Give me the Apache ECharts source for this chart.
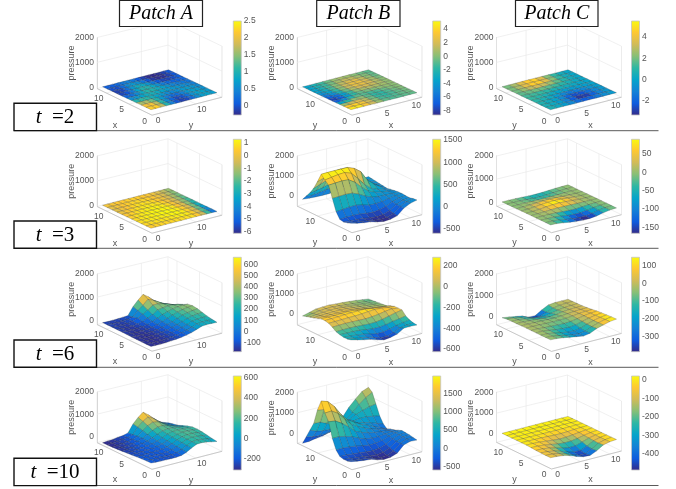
<!DOCTYPE html>
<html><head><meta charset="utf-8">
<script src="https://cdn.jsdelivr.net/npm/echarts@6/dist/echarts.min.js"></script>
<style>html,body{margin:0;padding:0;background:#fff}#c{width:676px;height:489px}</style>
</head><body><div id="c"></div>
<script>
const patchA_t2=[
[2.0,2.3,2.0,1.3,.6,.1,-.1,-.1,.1,.4,.6,.7,.7,.6],
[2.1,2.4,2.1,1.4,.7,.2,-.1,-.2,0,.4,.7,.8,.8,.6],
[1.8,2.0,1.8,1.3,.8,.4,.1,0,.2,.5,.7,.7,.7,.5],
[1.2,1.4,1.3,1.1,.8,.6,.4,.3,.4,.6,.7,.7,.6,.5],
[.7,.8,.9,.9,.9,.8,.7,.6,.6,.6,.7,.6,.5,.4],
[.3,.3,.5,.7,1.0,1.0,.9,.8,.7,.6,.5,.4,.4,.3],
[0,0,.2,.6,1.0,1.1,1.0,.8,.6,.4,.3,.2,.2,.2],
[-.1,-.2,.1,.5,.9,1.0,.9,.6,.3,.1,0,0,.1,.2],
[0,-.2,0,.4,.7,.8,.6,.3,0,-.2,-.2,-.2,0,.1],
[.1,0,.1,.3,.5,.5,.3,0,-.2,-.3,-.3,-.2,-.1,.1],
[.2,.1,.1,.2,.3,.3,.1,-.1,-.2,-.3,-.2,-.2,0,.1]];
const patchB_t2=[
[4,5,4,2,1,0,-1,-1,-1,-1,-1],
[4,5,4,2.5,1,-.5,-1.5,-1,-1,-.5,-.5],
[2,3,3,2.5,.5,-1,-2,-1.5,-1,-.5,-.5],
[-2,-1,1,1.5,0,-1.5,-2,-1.5,-1,-.5,0],
[-6,-5,-2,0,-.5,-1.5,-2,-1.5,-.5,0,0],
[-8,-8,-5,-2,-1,-1,-1,-.5,0,0,0],
[-7,-8,-6,-3,-1,0,.5,.5,.5,.5,0],
[-6,-6,-4,-2,0,1,1.5,1.5,1,.5,0],
[-5,-5,-3,-1,.5,2,2.5,2,1.5,.5,0],
[-4,-4,-2,-.5,1,2.5,3,2.5,1.5,.5,-.5],
[-4,-3,-2,-.5,1,2,3,2.5,1,0,-1],
[-4,-3,-2,-1,.5,1.5,2,1.5,.5,-.5,-1],
[-4,-3,-2,-1,0,1,1,.5,0,-.5,-1],
[-4,-3,-2,-1,0,.5,.5,0,-.5,-1,-1]];
const patchC_t2=[
[.8,.5,0,-.5,-1,-1.5,-1.5,-1,-.5,-.3,-.2],
[.8,.5,0,-.5,-1.5,-2.8,-3,-2.5,-1.5,-.6,-.3],
[.8,.5,.1,-.5,-1.5,-2.8,-3.2,-2.5,-1.5,-.6,-.3],
[1,.7,.3,-.2,-1,-1.8,-2,-1.5,-1,-.5,-.2],
[1.2,1,.7,.3,-.2,-.6,-.8,-.6,-.4,-.2,-.1],
[1.3,1.2,1,.8,.5,.2,.2,.1,0,0,0],
[1.5,1.5,1.5,1.4,1.2,1,.8,.6,.3,.1,0],
[1.7,2,2.3,2.5,2.4,2,1.5,1,.5,.2,0],
[1.8,2.3,3.2,4,4.3,3.8,2.8,1.5,.7,.2,0],
[1.8,2.3,3.3,4.5,5.2,4.8,3,1.7,.7,.2,0],
[1.7,2.2,3,3.8,4.3,4,2.5,1.5,.6,.2,0]];
const patchA_t3=[
[.3,.4,.5,.5,.5,.5,.6,.6,.7,.6,0,-1.5,-3.5,-6],
[.5,.6,.7,.7,.7,.8,.9,.9,1,.8,.2,-1.2,-3,-5.5],
[.7,.8,.9,1,1,1,1.1,1.2,1.2,.9,.2,-1,-2.8,-4.8],
[.7,.9,1,1.1,1.1,1.2,1.2,1.3,1.2,.9,.2,-.9,-2.5,-4],
[.5,.8,1,1.1,1.2,1.2,1.3,1.3,1.1,.8,.1,-.8,-2.2,-3.2],
[.3,.6,.8,1,1.1,1.2,1.2,1.2,1,.6,0,-.8,-2,-2.8],
[0,.3,.5,.8,1,1,1.1,1,.8,.4,-.1,-.8,-1.7,-2.4],
[-.3,0,.3,.6,.8,.9,.9,.8,.6,.3,-.2,-.8,-1.5,-2],
[-.5,-.1,.2,.4,.6,.7,.7,.6,.5,.2,-.2,-.7,-1.3,-1.8],
[-.1,.1,.3,.4,.5,.6,.6,.5,.4,.2,-.2,-.6,-1.1,-1.6],
[.3,.3,.4,.4,.4,.4,.4,.3,.3,.1,-.2,-.5,-1,-1.4]];
const patchB_t3=[
[-260,-340,-400,-440,-530,-590,-570,-480,-190,-20,60],
[-320,-380,-430,-470,-540,-590,-560,-450,-190,-30,40],
[-370,-400,-420,-440,-510,-540,-510,-390,-170,-40,0],
[-330,-310,-300,-320,-370,-400,-360,-270,-120,-20,10],
[-30,0,30,40,-30,-130,-140,-120,-40,10,30],
[550,560,580,560,420,240,100,40,30,30,20],
[1130,1150,1170,1150,930,600,320,170,90,50,0],
[1300,1350,1400,1420,1300,950,560,280,140,60,-30],
[1500,1510,1510,1510,1500,1370,1120,610,320,100,-70],
[1040,1150,1250,1350,1360,1170,850,490,240,90,-40],
[615,740,860,960,980,860,600,340,180,80,-10],
[300,350,420,500,520,470,340,210,120,70,20],
[50,30,70,120,170,170,140,110,90,70,50],
[-210,-240,-260,-270,-270,-220,-120,-40,20,60,80]];
const patchC_t3=[
[-5,-20,-60,-110,-140,-165,-165,-130,-70,-25,-5],
[-5,-15,-40,-90,-130,-160,-160,-120,-60,-20,-5],
[0,-5,-15,-50,-90,-120,-120,-85,-40,-15,0],
[0,0,5,-5,-30,-50,-55,-35,-15,-5,0],
[0,5,15,30,35,30,20,10,5,0,0],
[0,5,25,55,75,80,65,40,15,5,0],
[0,5,25,55,80,85,70,40,15,5,0],
[-5,0,10,25,40,40,30,15,5,0,0],
[-5,-5,-5,-10,-20,-20,-15,-10,-5,0,0],
[-5,-5,-15,-30,-50,-60,-50,-30,-15,-5,0],
[-5,-5,-10,-25,-40,-45,-40,-25,-10,-5,0]];
const patchA_t6=[
[-160,-165,-165,-160,-140,-125,-100,-60,-10,70,150,170,160,150],
[-160,-165,-165,-160,-145,-125,-100,-60,-5,70,155,180,185,180],
[-155,-165,-165,-160,-145,-125,-95,-50,10,80,170,200,215,220],
[-150,-160,-165,-160,-145,-120,-85,-30,35,110,195,240,270,280],
[-145,-160,-165,-155,-140,-115,-70,-5,60,145,230,280,320,340],
[-140,-155,-160,-150,-135,-105,-50,25,110,190,265,320,355,370],
[-130,-150,-155,-145,-125,-90,-20,70,170,240,300,340,350,340],
[-125,-145,-150,-140,-110,-60,30,130,270,310,330,320,290,230],
[-120,-140,-145,-130,-90,-20,100,220,380,380,330,260,180,100],
[-120,-135,-140,-130,-110,-70,160,330,530,440,310,190,90,20],
[-120,-130,-130,-120,-110,-100,230,460,650,490,290,120,10,-50]];
const patchB_t6=[
[-175,-260,-340,-400,-510,-600,-560,-480,-270,-260,-280],
[-220,-270,-330,-390,-480,-590,-590,-490,-340,-290,-260],
[-220,-250,-280,-320,-400,-470,-470,-400,-310,-250,-200],
[-180,-190,-200,-220,-270,-310,-310,-270,-200,-150,-90],
[-120,-110,-110,-120,-140,-160,-150,-100,-20,60,120],
[20,30,40,30,20,10,30,70,130,170,120],
[125,130,140,150,150,170,200,220,200,150,120],
[170,180,190,210,220,230,230,180,130,100,60],
[170,170,160,170,180,170,130,80,40,10,-30],
[110,110,110,110,110,100,70,30,0,-20,-50],
[40,70,80,90,90,70,40,10,-20,-50,-70],
[-10,30,60,80,80,50,20,-10,-40,-70,-90],
[-70,0,40,70,70,40,0,-30,-60,-90,-110],
[-125,-40,50,70,80,50,30,0,-30,-80,-125]];
const patchC_t6=[
[-30,-50,-90,-150,-200,-250,-200,-60,30,110,145],
[-30,-50,-100,-170,-230,-260,-210,-80,20,100,140],
[-30,-40,-90,-160,-210,-230,-180,-70,20,90,125],
[-25,-30,-70,-120,-150,-170,-130,-50,25,80,110],
[-25,-25,-50,-70,-90,-100,-80,-30,30,70,90],
[-20,-20,-30,-40,-50,-50,-40,-10,30,50,60],
[-20,-20,-30,-40,-50,-60,-40,-10,15,30,30],
[-25,-30,-50,-70,-100,-110,-80,-30,0,10,10],
[-25,-40,-80,-130,-180,-190,-130,-60,-15,0,5],
[-30,-60,-110,-180,-280,-300,-190,-70,-20,0,0],
[-70,-120,-170,-230,-370,-380,-190,-30,0,0,0]];
const patchA_t10=[
[-190,-205,-215,-220,-225,-225,-200,-110,20,130,140,110,60,20],
[-190,-200,-205,-210,-215,-210,-175,-90,30,135,160,130,90,50],
[-200,-205,-205,-205,-205,-195,-150,-65,50,140,175,165,130,90],
[-215,-215,-205,-200,-195,-175,-125,-40,70,150,190,190,165,130],
[-235,-225,-210,-195,-185,-155,-100,-10,90,160,195,195,180,155],
[-255,-240,-220,-200,-175,-135,-70,20,120,180,190,180,165,150],
[-275,-255,-235,-205,-170,-120,-30,70,160,200,180,150,110,90],
[-290,-270,-250,-220,-175,-100,20,140,240,240,170,100,40,10],
[-300,-280,-260,-230,-190,-110,90,250,350,310,170,50,-30,-80],
[-305,-285,-270,-235,-210,-140,140,340,480,370,190,30,-70,-130],
[-310,-290,-280,-240,-220,-160,180,420,600,420,210,0,-100,-170]];
const patchB_t10=[
[-285,-340,-390,-420,-520,-590,-570,-450,-130,-40,-60],
[-340,-380,-420,-450,-530,-590,-560,-430,-150,-20,-20],
[-340,-380,-420,-450,-510,-540,-490,-360,-130,0,20],
[-290,-300,-330,-360,-400,-420,-380,-270,-90,20,40],
[-65,-50,-80,-120,-190,-240,-230,-170,-50,30,60],
[420,420,350,250,100,-20,-70,-70,-30,0,-10],
[1140,1100,900,650,350,210,110,40,0,-30,-80],
[1480,1500,1300,950,600,400,250,130,30,-50,-130],
[1980,1870,1550,1090,730,540,350,230,70,-70,-210],
[1460,1400,1150,800,530,420,330,270,170,60,-50],
[720,700,560,420,330,320,340,380,380,320,260],
[310,180,120,100,120,190,320,480,600,700,750],
[-100,-180,-210,-200,-130,0,200,500,800,1050,1230],
[-510,-500,-440,-400,-320,-160,240,650,980,1270,1390]];
const patchC_t10=[
[-60,-80,-120,-200,-330,-420,-440,-300,-100,-30,0],
[-60,-80,-130,-230,-350,-460,-470,-320,-130,-40,-5],
[-50,-70,-120,-220,-330,-420,-420,-290,-120,-40,-5],
[-40,-50,-90,-170,-260,-320,-310,-210,-100,-40,-5],
[-20,-30,-60,-110,-170,-200,-200,-150,-80,-30,-5],
[-5,-10,-30,-60,-100,-130,-120,-90,-50,-20,0],
[0,-5,-10,-20,-30,-50,-50,-40,-20,-5,0],
[0,0,0,-5,-5,-10,-10,-10,-5,0,0],
[2,2,3,3,3,2,2,2,2,2,2],
[5,5,6,6,6,5,5,5,4,4,3],
[8,8,8,9,9,8,8,7,6,5,4]];

const pressureTicks=[0,1000,2000];
const xyTicksLong=[0,10];
const xyTicksShort=[0,5,10];
const barTicksA2=[0,.5,1,1.5,2,2.5], barTicksB2=[-8,-6,-4,-2,0,2,4], barTicksC2=[-2,0,2,4];
const barTicksA3=[-6,-5,-4,-3,-2,-1,0,1], barTicksB3=[-500,0,500,1000,1500], barTicksC3=[-150,-100,-50,0,50];
const barTicksA6=[-100,0,100,200,300,400,500,600], barTicksB6=[-600,-400,-200,0,200], barTicksC6=[-300,-200,-100,0,100];
const barTicksA10=[-200,0,200,400,600], barTicksB10=[-500,0,500,1000,1500], barTicksC10=[-400,-300,-200,-100,0];
const patchNames=['Patch A','Patch B','Patch C'];
const timeNames=['2','3','6','10'];

const FONT='"Liberation Sans",Arial,sans-serif';
const TXT='#555555';
const PARULA=[[53,42,135],[15,92,221],[20,129,214],[6,164,202],[46,183,164],[135,191,119],[209,187,89],[254,200,50],[249,251,14]];
function cmap(t){t=Math.max(0,Math.min(1,t))*8;const i=Math.min(7,Math.floor(t)),f=t-i,a=PARULA[i],b=PARULA[i+1];
  return 'rgb('+[0,1,2].map(k=>Math.round(a[k]+(b[k]-a[k])*f)).join(',')+')';}

const SURF={F:[54,22.5],R:[120,5.5],L:[5.5,-.5]};
const FLOOR={L:[0,0],F:[55,26.7],R:[125,8.7],B:[71,-17.3]};
const COLS=[
 {wall:97,bar:233.3,names:['y','x'],uLim:16,vLim:12,uTicks:xyTicksLong,vTicks:xyTicksShort},
 {wall:297,bar:432.7,names:['x','y'],uLim:12,vLim:16,uTicks:xyTicksShort,vTicks:xyTicksLong},
 {wall:496.5,bar:631.5,names:['x','y'],uLim:12,vLim:12,uTicks:xyTicksShort,vTicks:xyTicksShort}];
const BARY=[[21,115],[139.3,233.3],[257.3,351.7],[376,470]];
const panels=[
 {c:0,r:0,z:patchA_t2,clim:[-.29,2.5],ticks:barTicksA2,top:37.5,floor:88.5,zmin:-50},
 {c:1,r:0,z:patchB_t2,clim:[-8.7,5.2],ticks:barTicksB2,top:37.5,floor:88.5,zmin:-50},
 {c:2,r:0,z:patchC_t2,clim:[-3.3,5.5],ticks:barTicksC2,top:37.5,floor:88.5,zmin:-50},
 {c:0,r:1,z:patchA_t3,clim:[-6.15,1.3],ticks:barTicksA3,top:156,floor:206.5,zmin:-30},
 {c:1,r:1,z:patchB_t3,clim:[-597,1515],ticks:barTicksB3,top:156,floor:206,zmin:-520},
 {c:2,r:1,z:patchC_t3,clim:[-166,90],ticks:barTicksC3,top:156,floor:206,zmin:-160},
 {c:0,r:2,z:patchA_t6,clim:[-180,663],ticks:barTicksA6,top:274,floor:324.5,zmin:-180},
 {c:1,r:2,z:patchB_t6,clim:[-625,280],ticks:barTicksB6,top:274,floor:324.7,zmin:-540},
 {c:2,r:2,z:patchC_t6,clim:[-386,147],ticks:barTicksC6,top:274,floor:324.7,zmin:-375},
 {c:0,r:3,z:patchA_t10,clim:[-308,616],ticks:barTicksA10,top:392,floor:442.6,zmin:-280},
 {c:1,r:3,z:patchB_t10,clim:[-600,1995],ticks:barTicksB10,top:392.3,floor:443,zmin:-470},
 {c:2,r:3,z:patchC_t10,clim:[-486,20],ticks:barTicksC10,top:392.3,floor:442.3,zmin:-400}];

const grids=[],xAxes=[],yAxes=[],series=[];
const labelBase={fontFamily:FONT,fontSize:8.5,color:TXT,formatter:v=>String(v)};
function line(a,b,color,w){return {type:'line',shape:{x1:a[0],y1:a[1],x2:b[0],y2:b[1]},style:{stroke:color,lineWidth:w||.7,fill:null},silent:true};}
function mix(a,b,f){return [a[0]+(b[0]-a[0])*f,a[1]+(b[1]-a[1])*f];}

panels.forEach((p,idx)=>{
  const col=COLS[p.c], g=idx*2;
  grids.push({left:col.wall,top:p.top,width:130,height:p.floor-p.top,containLabel:false});
  xAxes.push({gridIndex:g,type:'value',min:0,max:130,show:false});
  yAxes.push({gridIndex:g,type:'value',min:p.zmin,max:2000,position:'left',
    name:'pressure',nameLocation:'middle',nameGap:21,nameRotate:90,nameMoveOverlap:false,
    nameTextStyle:{fontFamily:FONT,fontSize:9,color:TXT},
    axisLine:{show:true,lineStyle:{color:'#b8b8b8',width:.7}},
    axisTick:{show:false},splitLine:{show:false},
    axisLabel:Object.assign({show:true,margin:3,customValues:pressureTicks},labelBase)});
  const by=BARY[p.r];
  grids.push({left:col.bar,top:by[0],width:8,height:by[1]-by[0]});
  xAxes.push({gridIndex:g+1,type:'value',min:0,max:1,show:false});
  yAxes.push({gridIndex:g+1,type:'value',min:p.clim[0],max:p.clim[1],position:'right',
    axisLine:{show:false},axisTick:{show:false},splitLine:{show:false},
    axisLabel:Object.assign({show:true,margin:2.5,customValues:p.ticks,showMinLabel:true,showMaxLabel:true},labelBase)});

  series.push({type:'custom',xAxisIndex:g,yAxisIndex:g,clip:false,silent:true,animation:false,z:1,data:[[0,0]],
    renderItem:(params,api)=>{
      const P=(rel,z)=>{const c=api.coord([rel[0],z]);return [c[0],c[1]+rel[1]];};
      const lo=k=>P(FLOOR[k],p.zmin), hi=k=>P(FLOOR[k],2000);
      const LG='#e9e9e9',DK='#b8b8b8',ch=[];
      [1000,2000].forEach(z=>{ch.push(line(P(FLOOR.L,z),P(FLOOR.B,z),LG),line(P(FLOOR.B,z),P(FLOOR.R,z),LG));});
      ch.push(line(lo('L'),lo('B'),LG),line(lo('B'),lo('R'),LG),line(lo('B'),hi('B'),LG),line(lo('R'),hi('R'),LG));
      col.uTicks.forEach(t=>{const f=t/col.uLim;
        const a=mix(FLOOR.L,FLOOR.B,f),b=mix(FLOOR.F,FLOOR.R,f);
        ch.push(line(P(a,p.zmin),P(a,2000),LG),line(P(a,p.zmin),P(b,p.zmin),LG));});
      col.vTicks.forEach(t=>{const f=t/col.vLim;
        const a=mix(FLOOR.R,FLOOR.B,f),b=mix(FLOOR.F,FLOOR.L,f);
        ch.push(line(P(a,p.zmin),P(a,2000),LG),line(P(a,p.zmin),P(b,p.zmin),LG));});
      ch.push(line(lo('L'),lo('F'),DK),line(lo('F'),lo('R'),DK));
      const text=(rel,s,size)=>{const c=P(rel,p.zmin);
        return {type:'text',x:c[0],y:c[1],silent:true,style:{text:String(s),fill:TXT,font:(size||8.5)+'px '+FONT,align:'center',verticalAlign:'middle',textAlign:'center',textVerticalAlign:'middle'}};};
      col.uTicks.forEach(t=>{const b=mix(FLOOR.F,FLOOR.R,t/col.uLim);ch.push(text([b[0]+6,b[1]+5.5],t));});
      col.vTicks.forEach(t=>{const b=mix(FLOOR.F,FLOOR.L,t/col.vLim);ch.push(text([b[0]-7.5,b[1]+6],t));});
      ch.push(text([94,37.5],col.names[0],9),text([18,37],col.names[1],9));
      return {type:'group',children:ch};
    }});

  const M=p.z,vMax=M.length-1,uMax=M[0].length-1,cells=[];
  for(let v=vMax-1;v>=0;v--)for(let u=uMax-1;u>=0;u--)cells.push([v,u]);
  series.push({type:'custom',xAxisIndex:g,yAxisIndex:g,clip:false,silent:true,animation:false,z:2,
    dimensions:['v','u'],encode:{x:1,y:0},data:cells,
    renderItem:(params,api)=>{
      const v=api.value(0),u=api.value(1);
      const q=(vi,ui)=>{const fu=ui/uMax,fv=vi/vMax,
        hx=SURF.F[0]+fu*(SURF.R[0]-SURF.F[0])+fv*(SURF.L[0]-SURF.F[0]),
        gy=SURF.F[1]+fu*(SURF.R[1]-SURF.F[1])+fv*(SURF.L[1]-SURF.F[1]),
        c=api.coord([hx,M[vi][ui]]);return [c[0],c[1]+gy];};
      const avg=(M[v][u]+M[v][u+1]+M[v+1][u+1]+M[v+1][u])/4;
      return {type:'polygon',shape:{points:[q(v,u),q(v,u+1),q(v+1,u+1),q(v+1,u)]},
        style:{fill:cmap((avg-p.clim[0])/(p.clim[1]-p.clim[0])),stroke:'rgba(40,40,40,.42)',lineWidth:.5}};
    }});

  series.push({type:'custom',xAxisIndex:g+1,yAxisIndex:g+1,clip:false,silent:true,animation:false,data:[[0,p.clim[0]]],
    renderItem:(params,api)=>{
      const a=api.coord([0,p.clim[1]]),b=api.coord([1,p.clim[0]]);
      return {type:'rect',shape:{x:a[0],y:a[1],width:b[0]-a[0],height:b[1]-a[1]},
        style:{stroke:'#c4c4c4',lineWidth:.8,fill:new echarts.graphic.LinearGradient(0,0,0,1,
          PARULA.map((_,i)=>({offset:i/8,color:cmap(1-i/8)})))}};
    }});
});

const graphic=[];
const LINE='#5a5a5a';
[130.7,248.3,367.3,485.5].forEach(y=>graphic.push({type:'line',shape:{x1:14,y1:y,x2:658.5,y2:y},style:{stroke:LINE,lineWidth:1},z:20}));
[[119.5,202.5],[316.7,400],[515.5,598]].forEach((b,i)=>{
  graphic.push({type:'rect',shape:{x:b[0],y:.5,width:b[1]-b[0],height:26},style:{fill:'#fff',stroke:'#222',lineWidth:1.2},z:20});
  graphic.push({type:'text',x:(b[0]+b[1])/2,y:14,z:21,style:{text:patchNames[i],font:'italic 20px "Liberation Serif",serif',fill:'#000',align:'center',verticalAlign:'middle'}});
});
[103.3,221,340,458.3].forEach((y,i)=>{
  graphic.push({type:'rect',shape:{x:14,y:y,width:82.5,height:27.3},style:{fill:'#fff',stroke:'#111',lineWidth:1.4},z:20});
  graphic.push({type:'text',x:55,y:y+14,z:21,style:{text:'{i|t}{n|  ='+timeNames[i]+'}',align:'center',verticalAlign:'middle',
    rich:{i:{font:'italic 21px "Liberation Serif",serif',fill:'#000'},n:{font:'21px "Liberation Serif",serif',fill:'#000'}}}});
});

const chart=echarts.init(document.getElementById('c'),null,{renderer:'canvas'});
chart.setOption({animation:false,backgroundColor:'#fff',grid:grids,xAxis:xAxes,yAxis:yAxes,series:series,graphic:{elements:graphic}});
</script></body></html>
